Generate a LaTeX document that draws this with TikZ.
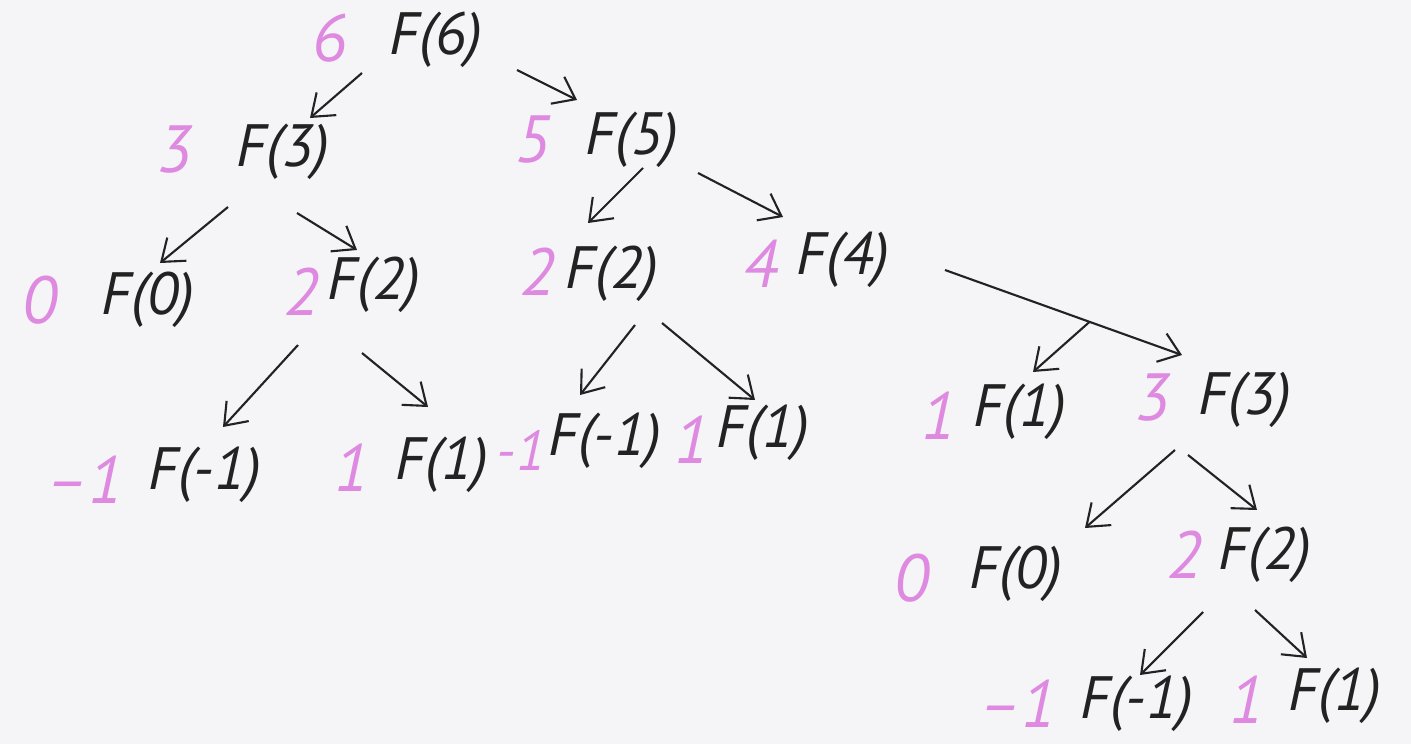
\documentclass[tikz,border=0pt]{standalone}
\usepackage{fontspec}
\setmainfont{PT Sans}
\usetikzlibrary{arrows.meta}
\definecolor{ink}{HTML}{222222}
\definecolor{marker}{HTML}{DE8AE0}
\definecolor{paper}{HTML}{F5F5F7}
\tikzset{
  call/.style={text=ink, font=\fontsize{34}{40}\selectfont\itshape, inner sep=0pt},
  value/.style={text=marker, font=\fontsize{38}{44}\selectfont\itshape, inner sep=0pt},
  arrow/.style={-{Straight Barb[length=4mm,width=6mm]}, line width=1.2pt, draw=ink}
}

\begin{document}
\begin{tikzpicture}[x=0.02cm, y=-0.02cm]
\fill[paper] (0,0) rectangle (1411,744);
\useasboundingbox (0,0) rectangle (1411,744);
% appels et valeurs, niveau par niveau
\node[value] (v6) at (330,38) {6};
\node[call] (c6) at (436,40) {F(6)};
\node[value] (v3a) at (175,150) {3};
\node[call] (c3a) at (283,152) {F(3)};
\node[value] (v5) at (533,140) {5};
\node[call] (c5) at (632,140) {F(5)};
\node[value] (v0a) at (40,300) {0};
\node[call] (c0a) at (148,300) {F(0)};
\node[value] (v2a) at (302,292) {2};
\node[call] (c2a) at (374,285) {F(2)};
\node[value] (v2b) at (538,272) {2};
\node[call] (c2b) at (612,274) {F(2)};
\node[value] (v4) at (761,264) {4};
\node[call] (c4) at (843,260) {F(4)};
\node[value] (vm1a) at (85,480) {--1};
\node[call] (cm1a) at (205,475) {F(-1)};
\node[value] (v1a) at (352,468) {1};
\node[call] (c1a) at (442,465) {F(1)};
\node[value, font=\fontsize{32}{38}\selectfont\itshape] (vm1b) at (521,450) {-1};
\node[call] (cm1b) at (605,441) {F(-1)};
\node[value] (v1b) at (692,440) {1};
\node[call] (c1b) at (763,433) {F(1)};
\node[value] (v1c) at (939,416) {1};
\node[call] (c1c) at (1020,412) {F(1)};
\node[value] (v3b) at (1153,398) {3};
\node[call] (c3b) at (1245,400) {F(3)};
\node[value] (v0b) at (912,578) {0};
\node[call] (c0b) at (1016,574) {F(0)};
\node[value] (v2c) at (1185,555) {2};
\node[call] (c2c) at (1265,555) {F(2)};
\node[value] (vm1c) at (1018,704) {--1};
\node[call] (cm1c) at (1137,704) {F(-1)};
\node[value] (v1d) at (1247,700) {1};
\node[call] (c1d) at (1335,696) {F(1)};
% fleches d'appel
\draw[arrow] ([shift={(-74,33)}]c6.center) -- ([shift={(27,-34)}]c3a.center);
\draw[arrow] ([shift={(81,30)}]c6.center) -- ([shift={(-55,-40)}]c5.center);
\draw[arrow] ([shift={(-55,55)}]c3a.center) -- ([shift={(12,-37)}]c0a.center);
\draw[arrow] ([shift={(14,61)}]c3a.center) -- ([shift={(-17,-35)}]c2a.center);
\draw[arrow] ([shift={(11,28)}]c5.center) -- ([shift={(-24,-51)}]c2b.center);
\draw[arrow] ([shift={(66,33)}]c5.center) -- ([shift={(-60,-43)}]c4.center);
\draw[arrow] ([shift={(-76,60)}]c2a.center) -- ([shift={(18,-48)}]cm1a.center);
\draw[arrow] ([shift={(-12,68)}]c2a.center) -- ([shift={(-14,-58)}]c1a.center);
\draw[arrow] ([shift={(23,51)}]c2b.center) -- ([shift={(-25,-46)}]cm1b.center);
\draw[arrow] ([shift={(50,49)}]c2b.center) -- ([shift={(-8,-33)}]c1b.center);
% la longue fleche porte aussi la branche vers F(1)
\draw[arrow] ([shift={(102,10)}]c4.center) -- coordinate[pos=0.61] (fork) ([shift={(-63,-45)}]c3b.center);
\draw[arrow] (fork) -- ([shift={(13,-40)}]c1c.center);
\draw[arrow] ([shift={(-70,50)}]c3b.center) -- ([shift={(69,-46)}]c0b.center);
\draw[arrow] ([shift={(-57,55)}]c3b.center) -- ([shift={(-8,-45)}]c2c.center);
\draw[arrow] ([shift={(-62,57)}]c2c.center) -- ([shift={(3,-29)}]cm1c.center);
\draw[arrow] ([shift={(-10,55)}]c2c.center) -- ([shift={(-28,-38)}]c1d.center);
\end{tikzpicture}
\end{document}
